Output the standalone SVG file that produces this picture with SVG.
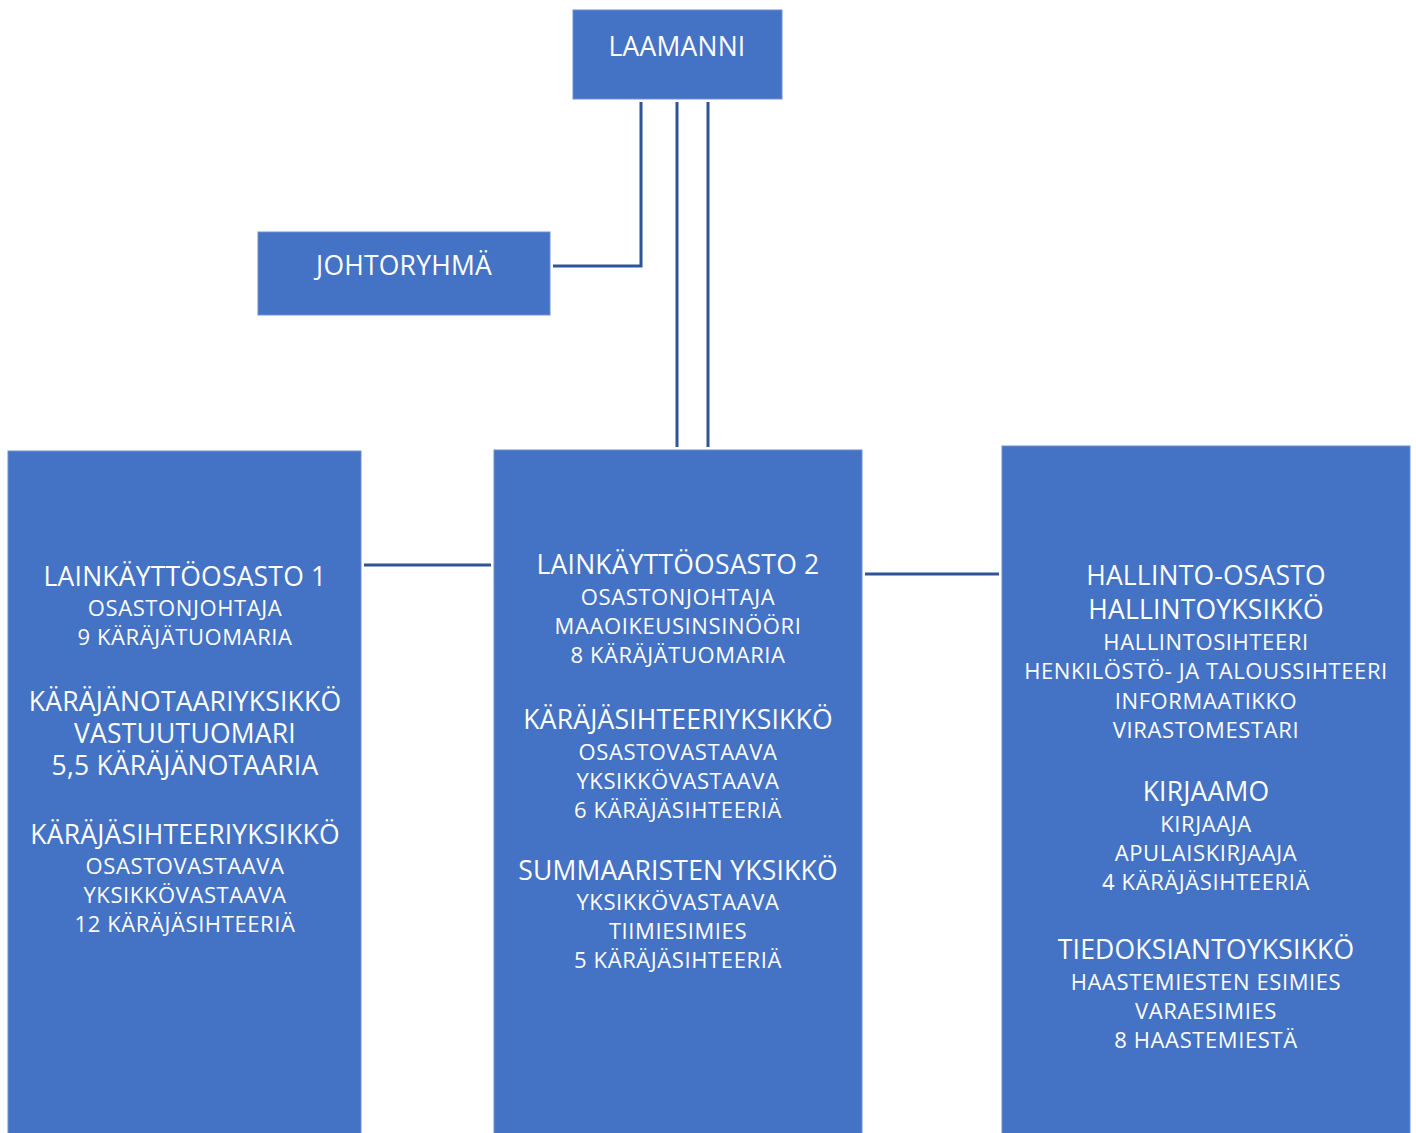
<svg xmlns="http://www.w3.org/2000/svg" width="1416" height="1133" viewBox="0 0 1416 1133">
<style>
.box{fill:#4472C4;stroke:#6F8FCF;stroke-width:1}
.conn{stroke:#2F5597;stroke-width:3;fill:none}
text{font-family:"Open Sans","Liberation Sans",sans-serif;fill:#fff;text-anchor:middle}
.h{font-size:26.5px;letter-spacing:0.2px}
.s{font-size:22px;letter-spacing:0.6px}
</style>
<rect width="1416" height="1133" fill="#fff"/>
<g id="connectors">
<polyline class="conn" points="641,102 641,266 553,266"/>
<line class="conn" x1="677" y1="102" x2="677" y2="447"/>
<line class="conn" x1="708" y1="102" x2="708" y2="447"/>
<line class="conn" x1="364" y1="565" x2="491" y2="565"/>
<line class="conn" x1="865" y1="574" x2="999" y2="574"/>
</g>
<g id="laamanni">
<rect class="box" x="573" y="10" width="209" height="89"/>
<text class="h" x="677" y="56">LAAMANNI</text>
</g>
<g id="johtoryhma">
<rect class="box" x="258" y="232" width="292" height="83"/>
<text class="h" x="404" y="275">JOHTORYHMÄ</text>
</g>
<g id="lainkayttoosasto1">
<rect class="box" x="8" y="451" width="353" height="690"/>
<text class="h" x="185" y="586">LAINKÄYTTÖOSASTO 1</text>
<text class="s" x="185" y="616">OSASTONJOHTAJA</text>
<text class="s" x="185" y="645">9 KÄRÄJÄTUOMARIA</text>
<text class="h" x="185" y="711">KÄRÄJÄNOTAARIYKSIKKÖ</text>
<text class="h" x="185" y="743">VASTUUTUOMARI</text>
<text class="h" x="185" y="775">5,5 KÄRÄJÄNOTAARIA</text>
<text class="h" x="185" y="844">KÄRÄJÄSIHTEERIYKSIKKÖ</text>
<text class="s" x="185" y="874">OSASTOVASTAAVA</text>
<text class="s" x="185" y="903">YKSIKKÖVASTAAVA</text>
<text class="s" x="185" y="932">12 KÄRÄJÄSIHTEERIÄ</text>
</g>
<g id="lainkayttoosasto2">
<rect class="box" x="494" y="450" width="368" height="690"/>
<text class="h" x="678" y="574">LAINKÄYTTÖOSASTO 2</text>
<text class="s" x="678" y="605">OSASTONJOHTAJA</text>
<text class="s" x="678" y="634">MAAOIKEUSINSINÖÖRI</text>
<text class="s" x="678" y="663">8 KÄRÄJÄTUOMARIA</text>
<text class="h" x="678" y="729">KÄRÄJÄSIHTEERIYKSIKKÖ</text>
<text class="s" x="678" y="760">OSASTOVASTAAVA</text>
<text class="s" x="678" y="789">YKSIKKÖVASTAAVA</text>
<text class="s" x="678" y="818">6 KÄRÄJÄSIHTEERIÄ</text>
<text class="h" x="678" y="880">SUMMAARISTEN YKSIKKÖ</text>
<text class="s" x="678" y="910">YKSIKKÖVASTAAVA</text>
<text class="s" x="678" y="939">TIIMIESIMIES</text>
<text class="s" x="678" y="968">5 KÄRÄJÄSIHTEERIÄ</text>
</g>
<g id="hallinto-osasto">
<rect class="box" x="1002" y="446" width="408" height="694"/>
<text class="h" x="1206" y="585">HALLINTO-OSASTO</text>
<text class="h" x="1206" y="619">HALLINTOYKSIKKÖ</text>
<text class="s" x="1206" y="650">HALLINTOSIHTEERI</text>
<text class="s" x="1206" y="679">HENKILÖSTÖ- JA TALOUSSIHTEERI</text>
<text class="s" x="1206" y="709">INFORMAATIKKO</text>
<text class="s" x="1206" y="738">VIRASTOMESTARI</text>
<text class="h" x="1206" y="801">KIRJAAMO</text>
<text class="s" x="1206" y="832">KIRJAAJA</text>
<text class="s" x="1206" y="861">APULAISKIRJAAJA</text>
<text class="s" x="1206" y="890">4 KÄRÄJÄSIHTEERIÄ</text>
<text class="h" x="1206" y="959">TIEDOKSIANTOYKSIKKÖ</text>
<text class="s" x="1206" y="990">HAASTEMIESTEN ESIMIES</text>
<text class="s" x="1206" y="1019">VARAESIMIES</text>
<text class="s" x="1206" y="1048">8 HAASTEMIESTÄ</text>
</g>
</svg>
